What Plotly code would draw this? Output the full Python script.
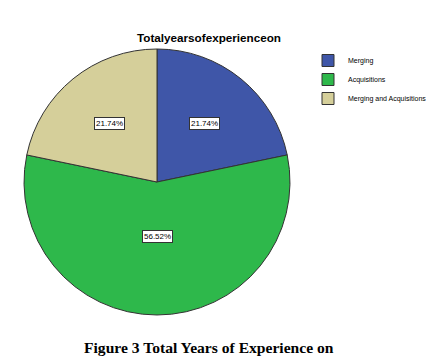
import math
import plotly.graph_objects as go

categories = ["Merging", "Acquisitions", "Merging and Acquisitions"]
counts = [5, 13, 5]
colors = ["#3f56a8", "#2eb84b", "#d5cf9a"]
title_text = "Totalyearsofexperienceon"
caption_text = "Figure 3 Total Years of Experience on"

# the page body has an 8px margin, so the figure is drawn 8px in from the corner
OFF = 8
W, H = 436 - OFF, 364 - OFF


def fx(px):
    return (px - OFF) / W


def fy(py):
    return 1 - (py - OFF) / H


cx_px, cy_px, R = 157, 182, 133

fig = go.Figure(go.Pie(
    labels=categories,
    values=counts,
    marker=dict(colors=colors, line=dict(color="#333333", width=1)),
    sort=False,
    direction="clockwise",
    rotation=0,
    textinfo="none",
    hoverinfo="label+percent",
    domain=dict(x=[fx(cx_px - R), fx(cx_px + R)],
                y=[fy(cy_px + R), fy(cy_px - R)]),
))

# percentage label boxes placed from the data
total = sum(counts)
cum = 0
annotations = []
for v in counts:
    mid = cum + v / 2
    cum += v
    ang = math.radians(90 - 360 * mid / total)
    f = 0.57 if v / total < 0.5 else 0.41
    px = cx_px + f * R * math.cos(ang)
    py = cy_px - f * R * math.sin(ang)
    annotations.append(dict(
        x=fx(px), y=fy(py), xref="paper", yref="paper",
        xanchor="center", yanchor="middle",
        text=f"{100 * v / total:.2f}%", showarrow=False,
        font=dict(family="Arial, Liberation Sans", size=8, color="black"),
        bgcolor="white", bordercolor="#333333", borderwidth=1, borderpad=1,
    ))

annotations.append(dict(
    x=fx(209), y=fy(37), xref="paper", yref="paper",
    xanchor="center", yanchor="middle",
    text=f"<b>{title_text}</b>", showarrow=False,
    font=dict(family="Arial, Liberation Sans", size=11.7, color="black"),
))
annotations.append(dict(
    x=fx(209), y=fy(347), xref="paper", yref="paper",
    xanchor="center", yanchor="middle",
    text=f"<b>{caption_text}</b>", showarrow=False,
    font=dict(family="Liberation Serif, Times New Roman", size=15.6, color="black"),
))

fig.update_layout(
    width=W, height=H,
    margin=dict(l=0, r=0, t=0, b=0),
    paper_bgcolor="white",
    plot_bgcolor="white",
    annotations=annotations,
    legend=dict(
        x=fx(308), y=fy(46), xanchor="left", yanchor="top",
        font=dict(family="Arial, Liberation Sans", size=7, color="black"),
        itemwidth=30, tracegroupgap=0, bgcolor="rgba(0,0,0,0)",
    ),
)

fig.write_html("out.html")
